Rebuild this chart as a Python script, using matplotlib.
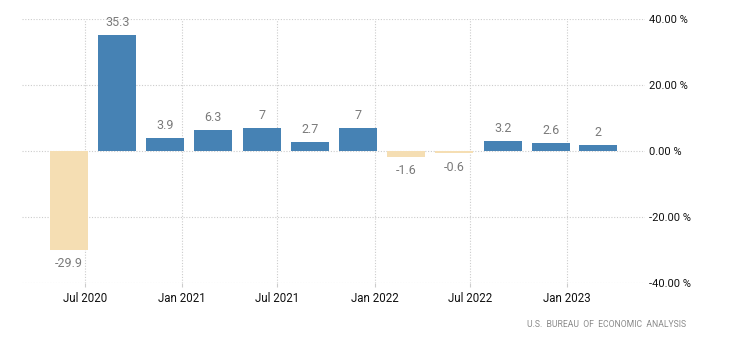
import datetime as dt
import matplotlib
matplotlib.use("Agg")
import matplotlib.pyplot as plt
import matplotlib.dates as mdates

# Quarterly GDP growth (annualized, %)
quarters = [dt.date(2020, 6, 1), dt.date(2020, 9, 1), dt.date(2020, 12, 1),
            dt.date(2021, 3, 1), dt.date(2021, 6, 1), dt.date(2021, 9, 1),
            dt.date(2021, 12, 1), dt.date(2022, 3, 1), dt.date(2022, 6, 1),
            dt.date(2022, 9, 1), dt.date(2022, 12, 1), dt.date(2023, 3, 1)]
values = [-29.9, 35.3, 3.9, 6.3, 7, 2.7, 7, -1.6, -0.6, 3.2, 2.6, 2]
labels = ["-29.9", "35.3", "3.9", "6.3", "7", "2.7", "7", "-1.6", "-0.6", "3.2", "2.6", "2"]
tick_dates = [dt.date(2020, 7, 1), dt.date(2021, 1, 1), dt.date(2021, 7, 1),
              dt.date(2022, 1, 1), dt.date(2022, 7, 1), dt.date(2023, 1, 1)]
tick_labels = ["Jul 2020", "Jan 2021", "Jul 2021", "Jan 2022", "Jul 2022", "Jan 2023"]
y_ticks = [-40, -20, 0, 20, 40]
source = "U.S.  BUREAU  OF  ECONOMIC  ANALYSIS"

FONT = "Roboto"
POS = "#4682b4"
NEG = "#f5deb3"

fig = plt.figure(figsize=(7.31, 3.5), dpi=100)
ax = fig.add_axes([0.030, 0.1906, 0.852, 0.7543])

colors = [POS if v >= 0 else NEG for v in values]
ax.bar(quarters, values, width=72, color=colors, zorder=3)

for d, v, s in zip(quarters, values, labels):
    off = 9 if v >= 0 else -10
    ax.annotate(s, (mdates.date2num(d), v), xytext=(0, off), textcoords="offset points",
                ha="center", va="center", fontsize=9, color="#7a7a7a", family=FONT)

ax.set_ylim(-40, 40)
ax.set_xlim(dt.date(2020, 3, 4), dt.date(2023, 5, 28))
ax.set_yticks(y_ticks)
ax.set_yticklabels([f"{t:.2f} %" for t in y_ticks], family=FONT, fontsize=8, color="#111111")
ax.yaxis.tick_right()
ax.tick_params(axis="y", length=0, pad=3)
ax.set_xticks([mdates.date2num(d) for d in tick_dates])
ax.set_xticklabels(tick_labels, family=FONT, fontsize=8.3, color="#111111")
ax.tick_params(axis="x", length=3, color="#cccccc", pad=3)

ax.grid(True, color="#cccccc", linestyle=(0, (1, 1.5)), linewidth=0.8, zorder=0)
for s in ax.spines.values():
    s.set_visible(False)

fig.text(0.938, 0.074, source, ha="right", va="center", fontsize=6.2,
         color="#8a8a8a", family=FONT)

fig.savefig("out.png", dpi=100)
